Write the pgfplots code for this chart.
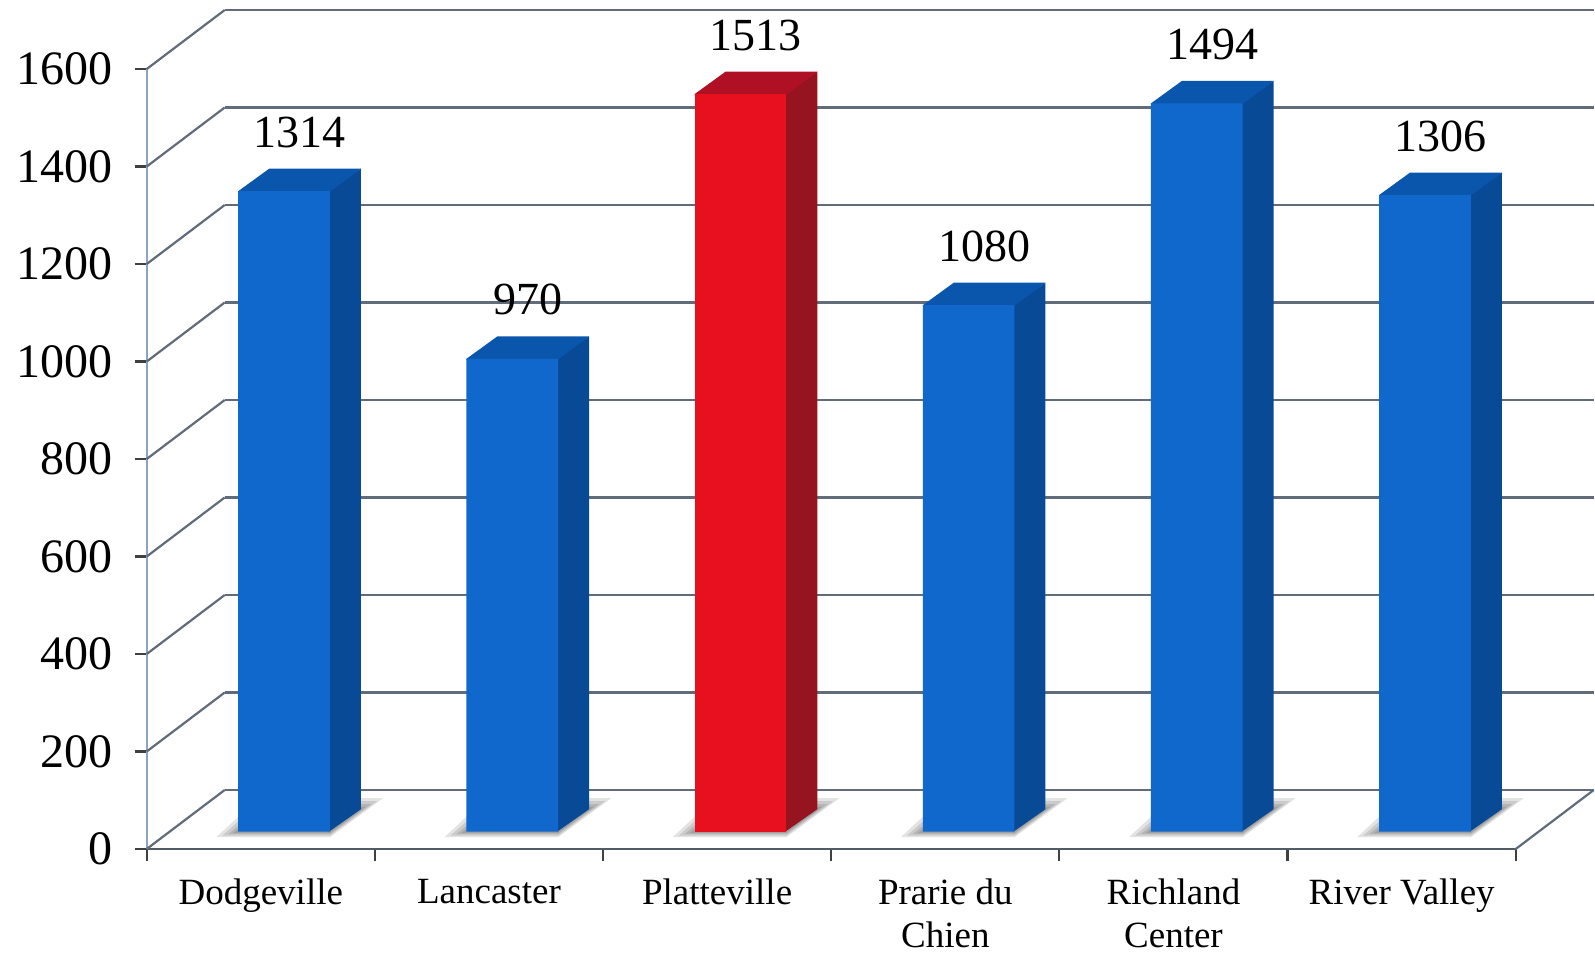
\documentclass[border=0pt]{standalone}
\usepackage{pgfplots}
\usepackage{pgfplotstable}
\pgfplotsset{compat=1.18}
\usepackage{fontspec}
\setmainfont{Liberation Serif}

\definecolor{gridc}{RGB}{96,108,122}
\definecolor{axisc}{RGB}{140,164,192}
\definecolor{bfront}{RGB}{16,104,204}
\definecolor{btop}{RGB}{10,86,172}
\definecolor{bside}{RGB}{8,74,150}
\definecolor{rfront}{RGB}{232,16,30}
\definecolor{rtop}{RGB}{176,16,36}
\definecolor{rside}{RGB}{150,20,32}

% side and top faces of a 3D bar, drawn at the front-top centre of the bar
\newcommand\defcube[3]{%
\pgfdeclareplotmark{#1}{%
  \pgfpathmoveto{\pgfpoint{22.4pt}{0.3pt}}%
  \pgfpathlineto{\pgfpoint{38.425pt}{11.25pt}}%
  \pgfpathlineto{\pgfpoint{38.425pt}{11.25pt-0.24375pt*\val}}%
  \pgfpathlineto{\pgfpoint{22.4pt}{-0.24375pt*\val}}%
  \pgfpathclose
  \pgfsetfillcolor{#3}\pgfusepath{fill}%
  \pgfpathmoveto{\pgfpoint{-22.925pt}{-0.5pt}}%
  \pgfpathlineto{\pgfpoint{22.6pt}{-0.5pt}}%
  \pgfpathlineto{\pgfpoint{38.425pt}{11.25pt}}%
  \pgfpathlineto{\pgfpoint{-7.425pt}{11.25pt}}%
  \pgfpathlineto{\pgfpoint{-22.925pt}{0pt}}%
  \pgfpathclose
  \pgfsetfillcolor{#2}\pgfusepath{fill}%
}}
\defcube{bluecube}{btop}{bside}
\defcube{redcube}{rtop}{rside}

% soft floor shadow round the foot of a bar
\newcommand\shadowlayer[1]{%
  \pgfpathmoveto{\pgfpoint{-22.925pt-#1pt}{-0.24375pt*\val-0.25*#1pt}}%
  \pgfpathlineto{\pgfpoint{22.925pt}{-0.24375pt*\val-0.25*#1pt}}%
  \pgfpathlineto{\pgfpoint{38.425pt+#1pt}{11.25pt-0.24375pt*\val+0.5*#1pt}}%
  \pgfpathlineto{\pgfpoint{-7.425pt-0.5*#1pt}{11.25pt-0.24375pt*\val+0.5*#1pt}}%
  \pgfpathclose\pgfusepath{fill}}
\pgfdeclareplotmark{cubeshadow}{%
  \pgfsetfillcolor{black}\pgfsetfillopacity{0.11}%
  \shadowlayer{11}\shadowlayer{8}\shadowlayer{5}\shadowlayer{2.5}%
}

\pgfplotstableread{
x y
0.5 1314
1.5 970
3.5 1080
4.5 1494
5.5 1306
}\bluedata
\pgfplotstableread{
x y
2.5 1513
}\reddata
\pgfplotstableread{
x y
0.5 1314
1.5 970
2.5 1513
3.5 1080
4.5 1494
5.5 1306
}\alldata

\begin{document}
\begin{tikzpicture}
\useasboundingbox (-73.35pt,-52.5pt) rectangle (724.15pt,424.5pt);
\begin{axis}[
  at={(0pt,0pt)}, anchor=south west,
  x=114.085pt, y=0.24375pt,
  xmin=0, xmax=6, ymin=0, ymax=1600,
  clip=false, clip marker paths=true,
  axis x line*=bottom, axis y line*=left,
  every outer x axis line/.append style={-},
  every outer y axis line/.append style={-},
  x axis line style={-, draw=gridc!85!black, line width=1.1pt},
  y axis line style={-, draw=axisc, line width=1.1pt},
  xtick={0,...,6}, x tick label as interval,
  xticklabels={Dodgeville,Lancaster,Platteville,{Prarie du\\Chien},{Richland\\Center},River Valley},
  ytick={0,200,...,1600},
  tick align=outside, major tick length=6pt,
  tick style={draw=black!75, line width=1.1pt},
  /pgf/number format/assume math mode=true,
  /pgf/number format/1000 sep={},
  yticklabel style={font=\fontsize{24}{28}\selectfont, xshift=-7.6pt},
  xticklabel style={font=\fontsize{18.5}{21.5}\selectfont, align=center, anchor=north, yshift=-5.5pt},
  visualization depends on={rawy \as \val},
  nodes near coords style={font=\fontsize{23}{27}\selectfont, anchor=base, xshift=7.75pt, yshift=22pt},
]
\pgfplotsinvokeforeach{0,200,...,1600}{%
  \draw[gridc, line width=1.1pt] ([shift={(39pt,29.5pt)}]axis cs:0,#1) -- ([shift={(39pt,29.5pt)}]axis cs:6,#1);
  \draw[gridc, line width=1.1pt] (axis cs:0,#1) -- ([shift={(39pt,29.5pt)}]axis cs:0,#1);
}
\draw[gridc, line width=1.1pt] (axis cs:6,0) -- ([shift={(39pt,29.5pt)}]axis cs:6,0);

\addplot[only marks, mark=cubeshadow, xshift=11.65pt, yshift=8.65pt] table[x=x,y=y] {\alldata};
\addplot[only marks, mark=bluecube, xshift=11.65pt, yshift=8.65pt] table[x=x,y=y] {\bluedata};
\addplot[only marks, mark=redcube, xshift=11.65pt, yshift=8.65pt] table[x=x,y=y] {\reddata};
\addplot[ybar, bar width=45.85pt, bar shift=0pt, fill=bfront, draw=none, xshift=11.65pt, yshift=8.65pt, nodes near coords] table[x=x,y=y] {\bluedata};
\addplot[ybar, bar width=45.85pt, bar shift=0pt, fill=rfront, draw=none, xshift=11.65pt, yshift=8.65pt, nodes near coords] table[x=x,y=y] {\reddata};
\end{axis}
\end{tikzpicture}
\end{document}
